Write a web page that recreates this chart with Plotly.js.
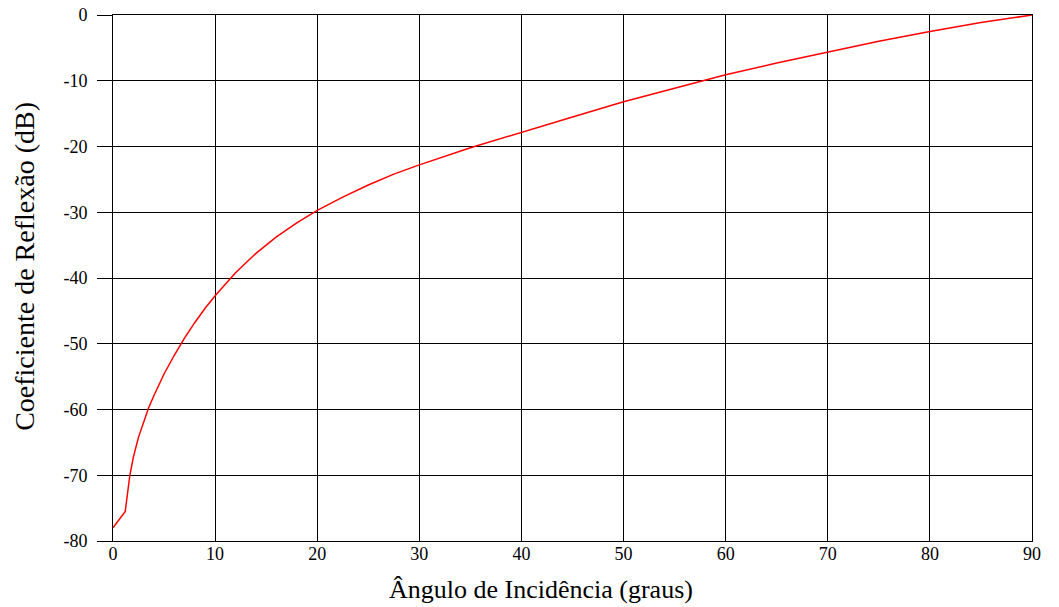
<!DOCTYPE html>
<html>
<head>
<meta charset="utf-8">
<script src="https://cdn.plot.ly/plotly-3.0.1.min.js"></script>
<style>html,body{margin:0;padding:0;background:#fff;}#chart{width:1059px;height:607px;}</style>
</head>
<body>
<div id="chart"></div>
<script>
const angle = [0, 1.2, 1.65, 2, 2.5, 3, 3.5, 4, 4.5, 5, 6, 7, 8, 9, 10, 12, 14, 16, 18, 20, 22.5, 25, 27.5, 30, 35, 40, 45, 50, 55, 60, 65, 70, 75, 80, 85, 90];
const reflection = [-78, -75.5, -70, -67.2, -64.2, -61.8, -59.7, -57.9, -56.2, -54.6, -51.75, -49.15, -46.8, -44.65, -42.7, -39.2, -36.25, -33.75, -31.6, -29.7, -27.7, -25.85, -24.2, -22.8, -20.2, -17.8, -15.5, -13.2, -11.1, -9.1, -7.3, -5.6, -4.0, -2.5, -1.15, 0];
const xTickVals = [0, 10, 20, 30, 40, 50, 60, 70, 80, 90];
const xTickText = ["0", "10", "20", "30", "40", "50", "60", "70", "80", "90"];
const yTickVals = [0, -10, -20, -30, -40, -50, -60, -70, -80];
const yTickText = ["0", "-10", "-20", "-30", "-40", "-50", "-60", "-70", "-80"];
const xTitle = "Ângulo de Incidência (graus)";
const yTitle = "Coeficiente de Reflexão (dB)";

const font = "Times New Roman, Liberation Serif, serif";

Plotly.newPlot("chart", [{
  x: angle, y: reflection, type: "scatter", mode: "lines",
  line: {color: "#ff0000", width: 1.5, shape: "linear"},
  hoverinfo: "skip"
}], {
  width: 1059, height: 607,
  margin: {l: 113, r: 27, t: 15, b: 66},
  paper_bgcolor: "#fff", plot_bgcolor: "#fff",
  showlegend: false,
  font: {family: font, color: "#000", size: 18},
  xaxis: {
    range: [0, 90], tickvals: xTickVals, ticktext: xTickText,
    showgrid: true, gridcolor: "#000", gridwidth: 1,
    showline: true, linecolor: "#000", linewidth: 1, mirror: true,
    zeroline: false, ticks: "", ticklabelstandoff: -4,
    tickfont: {family: font, size: 18, color: "#000"}
  },
  yaxis: {
    range: [-80, 0], tickvals: yTickVals, ticktext: yTickText,
    showgrid: true, gridcolor: "#000", gridwidth: 1,
    showline: true, linecolor: "#000", linewidth: 1, mirror: true,
    zeroline: false, ticks: "outside", ticklen: 15, tickwidth: 1, tickcolor: "#000",
    ticklabelstandoff: 6,
    tickfont: {family: font, size: 18, color: "#000"}
  },
  annotations: [
    {text: xTitle, xref: "paper", yref: "paper", x: 0.4657, y: -0.093,
     xanchor: "center", yanchor: "middle", showarrow: false,
     font: {family: font, size: 26, color: "#000"}},
    {text: yTitle, xref: "paper", yref: "paper", x: -0.0958, y: 0.523,
     xanchor: "center", yanchor: "middle", showarrow: false, textangle: -90,
     font: {family: font, size: 28, color: "#000"}}
  ]
}, {displayModeBar: false, staticPlot: true});
</script>
</body>
</html>
